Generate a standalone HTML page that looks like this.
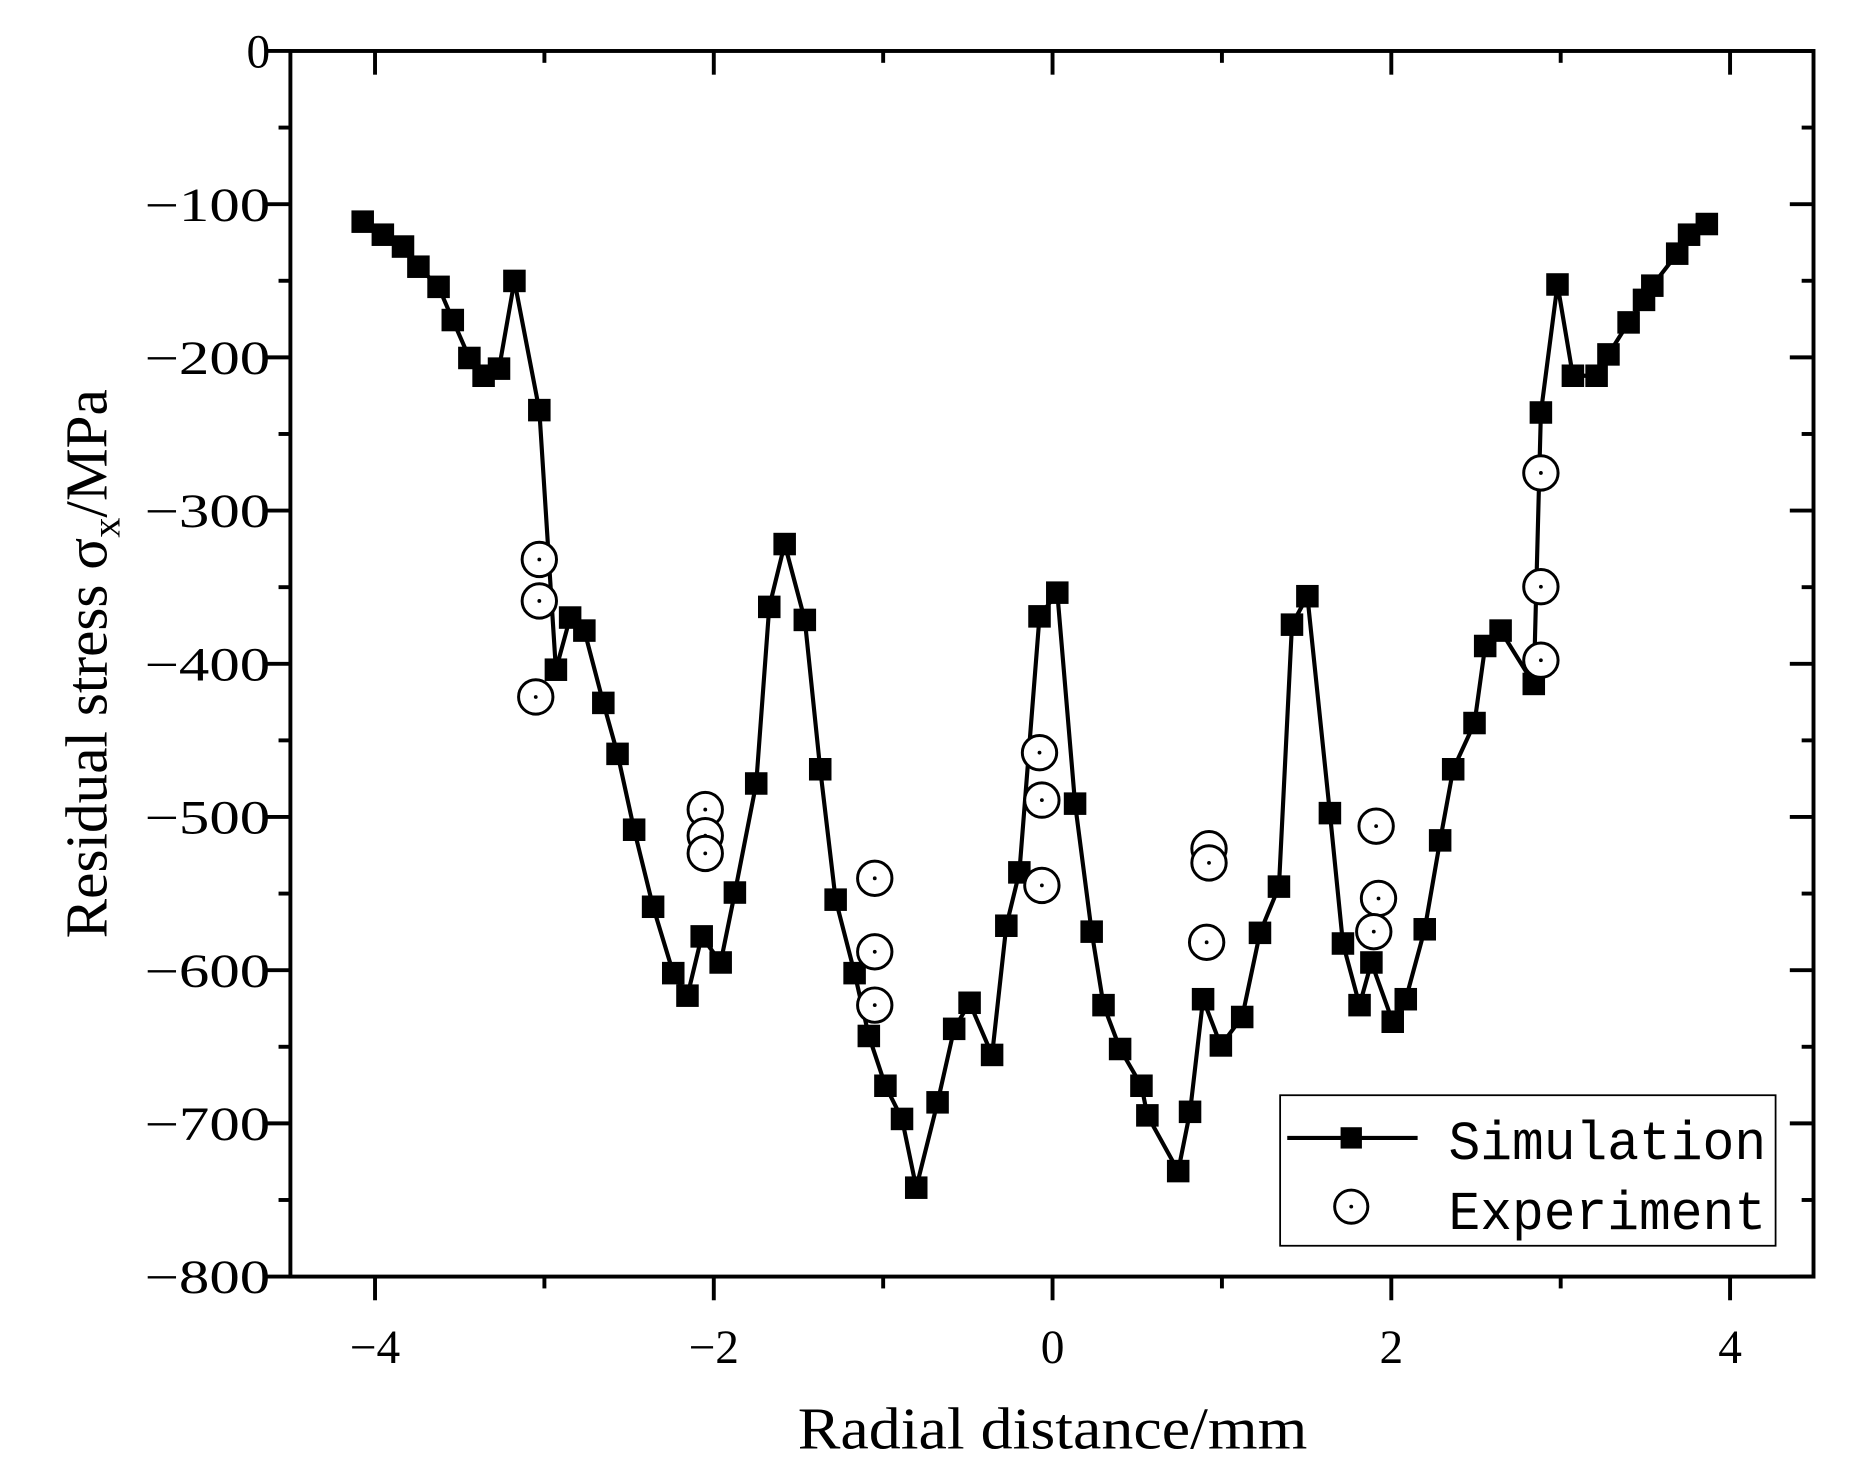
<!DOCTYPE html>
<html><head><meta charset="utf-8"><style>html,body{margin:0;padding:0;background:#fff;}svg{display:block}</style></head>
<body>
<svg id="s" width="1855" height="1475" viewBox="0 0 1565 1244.4" xmlns="http://www.w3.org/2000/svg" font-family="'Liberation Serif',serif">
<rect x="0" y="0" width="1565" height="1245" fill="#fff"/>
<g id="ax" stroke="#000" stroke-width="3.3" fill="none"></g>
<g id="ticks" font-size="40" fill="#000"></g>
<text x="888" y="1222" font-size="50" text-anchor="middle" textLength="430" lengthAdjust="spacingAndGlyphs">Radial distance/mm</text>
<text transform="translate(90,560) rotate(-90)" font-size="50" text-anchor="middle">Residual stress σ<tspan font-size="34" dy="11">x</tspan><tspan dy="-11">/MPa</tspan></text>
<g id="sim"></g>
<g id="exp"></g>
<rect x="1080" y="924" width="418" height="127" fill="#fff" stroke="#000" stroke-width="1.5"/>
<line x1="1086" y1="960" x2="1196" y2="960" stroke="#000" stroke-width="3.5"/>
<rect x="1131" y="951" width="18" height="18" fill="#000"/>
<circle cx="1140" cy="1018" r="14" fill="#fff" stroke="#000" stroke-width="2.5"/>
<circle cx="1140" cy="1018" r="1.6" fill="#000"/>
<text x="1222" y="978" font-family="'Liberation Mono',monospace" font-size="46" textLength="268" lengthAdjust="spacingAndGlyphs">Simulation</text>
<text x="1222" y="1037" font-family="'Liberation Mono',monospace" font-size="46" textLength="268" lengthAdjust="spacingAndGlyphs">Experiment</text>
</svg>
<script>
const NS="http://www.w3.org/2000/svg";
function el(p,t,a,txt){const e=document.createElementNS(NS,t);for(const k in a)e.setAttribute(k,a[k]);if(txt!==undefined)e.textContent=txt;document.getElementById(p).appendChild(e);return e;}
const L=245,R=1530,T=43,B=1077;
const X=v=>888+v*142.9, Y=v=>T-v*1.2925;
el('ax','rect',{x:L,y:T,width:R-L,height:B-T});
for(let v=-4;v<=4;v++){const x=X(v);const maj=v%2==0;const len=maj?20:10;
 el('ax','line',{x1:x,y1:B,x2:x,y2:B+len});el('ax','line',{x1:x,y1:T,x2:x,y2:T+len});
 if(maj)el('ticks','text',{x:x,y:1150,'text-anchor':'middle'},(v<0?'−':'')+Math.abs(v));}
for(let v=0;v>=-800;v-=50){const y=Y(v);const maj=v%100==0;const len=maj?20:10;
 el('ax','line',{x1:L,y1:y,x2:L-len,y2:y});el('ax','line',{x1:R,y1:y,x2:R-len,y2:y});
 if(maj){const a={x:228,y:y+14,'text-anchor':'end'};if(v!=0){a.textLength=106;a.lengthAdjust='spacingAndGlyphs';}
 el('ticks','text',a,v==0?'0':'−'+Math.abs(v));}}
const sim=[[306,187],[323,198],[340,208],[353,225],[370,242],[382,270],[396,302],[408,317],[421,311],[434,237],[455,346],[469,565],[481,521],[493,532],[509,593],[521,636],[535,700],[551,765],[568,821],[580,840],[592,790],[608,812],[620,753],[638,661],[649,512],[662,459],[679,523],[692,649],[705,759],[721,821],[733,874],[747,916],[761,944],[773,1002],[791,930],[805,868],[818,846],[837,890],[849,781],[860,736],[877,520],[892,500],[907,678],[921,786],[931,848],[945,885],[963,916],[968,941],[994,988],[1004,938],[1015,843],[1030,882],[1048,858],[1063,787],[1079,748],[1090,527],[1103,503],[1122,686],[1133,796],[1147,848],[1157,812],[1175,862],[1186,843],[1202,784],[1215,709],[1226,649],[1244,610],[1253,545],[1266,532],[1294,577],[1300,348],[1314,240],[1327,317],[1347,317],[1357,299],[1374,272],[1387,253],[1394,241],[1415,214],[1425,198],[1440,189]];
el('sim','polyline',{points:sim.map(p=>p.join(',')).join(' '),fill:'none',stroke:'#000','stroke-width':3.5,'stroke-linejoin':'round'});
sim.forEach(p=>el('sim','rect',{x:p[0]-9.5,y:p[1]-9.5,width:19,height:19,fill:'#000'}));
const ex=[[455,472],[455,507],[452,588],[595,683],[595,705],[595,720],[738,741],[738,803],[738,848],[877,635],[879,675],[879,747],[1020,716],[1020,728],[1018,795],[1161,697],[1163,758],[1159,786],[1300,399],[1300,495],[1300,557]];
ex.forEach(p=>{el('exp','circle',{cx:p[0],cy:p[1],r:14.5,fill:'#fff',stroke:'#000','stroke-width':2.5});el('exp','circle',{cx:p[0],cy:p[1],r:1.6,fill:'#000'});});
</script>
</body></html>
